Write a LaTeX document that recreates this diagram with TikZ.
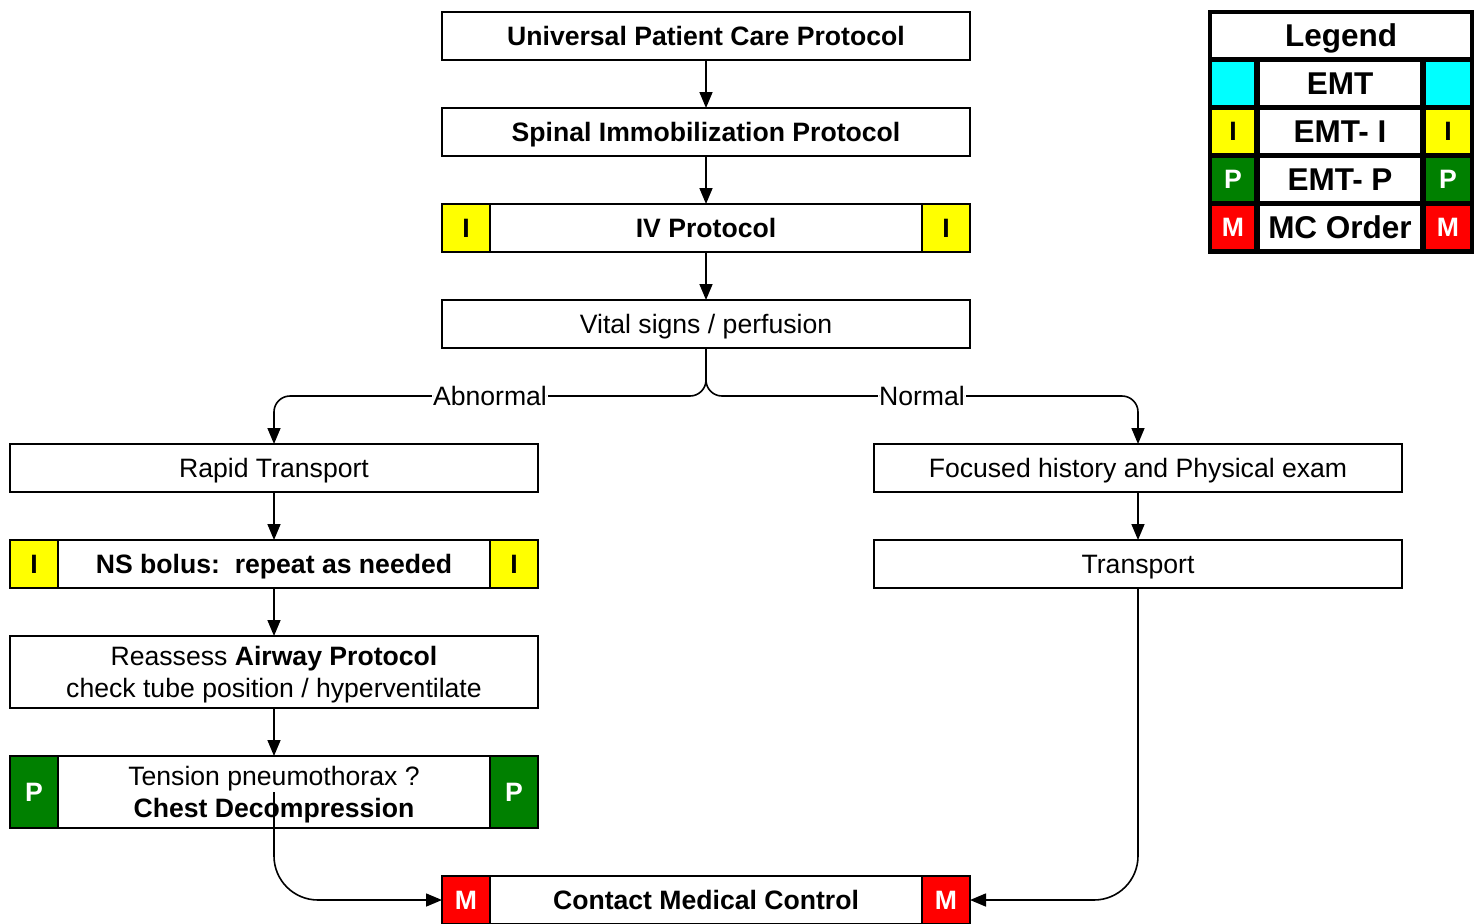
\documentclass[tikz,border=0pt]{standalone}
\usepackage{fontspec}
\setmainfont{Liberation Sans}
\usetikzlibrary{arrows.meta,positioning}
\definecolor{emtc}{RGB}{0,255,255}
\definecolor{emti}{RGB}{255,255,0}
\definecolor{emtp}{RGB}{0,128,0}
\definecolor{emtm}{RGB}{255,0,0}

\begin{document}
\begin{tikzpicture}[x=1pt,y=-1pt,
>={Triangle[length=16pt,width=13pt]},
blk/.style={draw, line width=1.6pt, fill=white, minimum width=528pt, minimum height=48pt, inner sep=0pt, outer sep=0pt, align=center, text depth=0pt, font=\fontsize{26.6}{32}\selectfont},
bblk/.style={blk, font=\fontsize{26.6}{32}\selectfont\bfseries},
cell/.style={draw, line width=1.6pt, minimum width=48pt, minimum height=48pt, inner sep=0pt, outer sep=0pt, font=\fontsize{26.6}{32}\selectfont\bfseries},
icell/.style={cell, fill=emti},
pcell/.style={cell, fill=emtp, text=white},
mcell/.style={cell, fill=emtm, text=white},
flow/.style={line width=1.6pt, ->},
lbl/.style={fill=white, inner sep=1pt, font=\fontsize{26.6}{32}\selectfont},
leg/.style={fill=white, inner sep=0pt, minimum height=43pt, text depth=0pt, font=\fontsize{31.5}{36}\selectfont\bfseries},
legc/.style={inner sep=0pt, minimum width=43pt, minimum height=43pt, font=\fontsize{26.6}{32}\selectfont\bfseries}
]
\useasboundingbox (0,0) rectangle (1476,924);
% main column
\node[bblk] (upc) at (706,36) {Universal Patient Care Protocol};
\node[bblk] (sip) at (706,132) {Spinal Immobilization Protocol};
\node[bblk] (iv) at (706,228) {IV Protocol};
\node[icell, anchor=west] (iv-l) at (iv.west) {I};
\node[icell, anchor=east] (iv-r) at (iv.east) {I};
\node[blk] (vit) at (706,324) {Vital signs / perfusion};
\coordinate (split) at (706,396);
% abnormal branch
\node[blk] (rapid) at (274,468) {Rapid Transport};
\node[bblk] (ns) at (274,564) {NS bolus:\ \ repeat as needed};
\node[icell, anchor=west] (ns-l) at (ns.west) {I};
\node[icell, anchor=east] (ns-r) at (ns.east) {I};
\node[blk, minimum height=72pt] (reas) at (274,672) {Reassess \textbf{Airway Protocol}\\check tube position / hyperventilate};
\node[blk, minimum height=72pt] (tens) at (274,792) {Tension pneumothorax ?\\\textbf{Chest Decompression}};
\node[pcell, minimum height=72pt, anchor=west] (tens-l) at (tens.west) {P};
\node[pcell, minimum height=72pt, anchor=east] (tens-r) at (tens.east) {P};
% normal branch
\node[blk] (fhpe) at (1138,468) {Focused history and Physical exam};
\node[blk] (trans) at (1138,564) {Transport};
% medical control
\node[bblk] (cmc) at (706,900) {Contact Medical Control};
\node[mcell, anchor=west] (cmc-l) at (cmc.west) {M};
\node[mcell, anchor=east] (cmc-r) at (cmc.east) {M};
% connectors
\draw[flow] (upc) -- (sip);
\draw[flow] (sip) -- (iv);
\draw[flow] (iv) -- (vit);
\draw[flow, rounded corners=16pt] (vit.south) -- (split) -| node[lbl, pos=0.25] {Abnormal} (rapid.north);
\draw[flow, rounded corners=16pt] (vit.south) -- (split) -| node[lbl, pos=0.25] {Normal} (fhpe.north);
\draw[flow] (rapid) -- (ns);
\draw[flow] (ns) -- (reas);
\draw[flow] (reas) -- (tens);
\draw[flow] (fhpe) -- (trans);
\draw[flow, rounded corners=44pt] (tens.center) |- (cmc-l.west);
\draw[flow, rounded corners=44pt] (trans.south) |- (cmc-r.east);
% legend
\fill (1208,10) rectangle (1474,254);
\node[leg, minimum width=258pt] (leg-t) at (1341,35.5) {Legend};
\foreach \n/\y/\c/\k/\t/\s in {e/83.5/emtc/black//EMT, i/131.5/emti/black/I/EMT- I, p/179.5/emtp/white/P/EMT- P, m/227.5/emtm/white/M/MC Order}{
  \node[legc, minimum width=42pt, fill=\c, text=\k] (leg-\n l) at (1233,\y) {\t};
  \node[leg, minimum width=160pt] (leg-\n) at (1340,\y) {\s};
  \node[legc, minimum width=44pt, fill=\c, text=\k] (leg-\n r) at (1448,\y) {\t};
}
\end{tikzpicture}
\end{document}
